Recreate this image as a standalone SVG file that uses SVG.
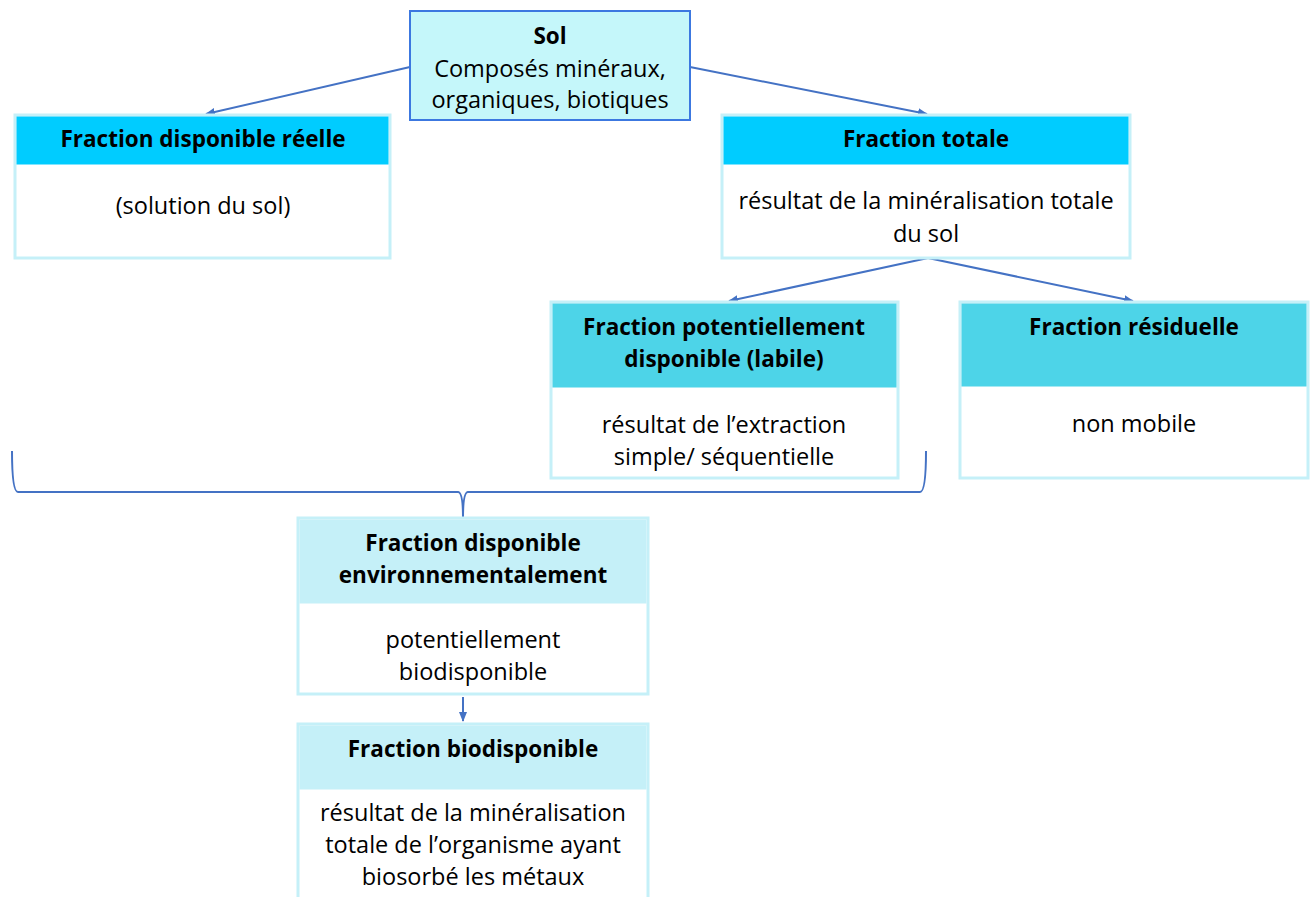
<svg xmlns="http://www.w3.org/2000/svg" width="1314" height="897" viewBox="0 0 1314 897">
<defs>
<style>
text{font-family:"Open Sans","Liberation Sans",sans-serif;font-size:23.5px;fill:#000;text-anchor:middle}
.b{font-weight:bold;font-size:22.5px}
.box{fill:#fff;stroke:#C5F0F8;stroke-width:3}
.h1{fill:#00CCFF}
.h2{fill:#4DD4E8}
.h3{fill:#C5F0F8}
.c{stroke:#4472C4;stroke-width:2;fill:none}
</style>
<marker id="a" markerWidth="10" markerHeight="8" refX="9" refY="4" orient="auto" markerUnits="userSpaceOnUse">
<path d="M0,0 L10,4 L0,8 Z" fill="#4472C4"/>
</marker>
</defs>
<rect width="1314" height="897" fill="#fff"/>
<g id="connectors">
<line class="c" x1="410" y1="67" x2="206" y2="114" marker-end="url(#a)"/>
<line class="c" x1="690" y1="67" x2="927" y2="114" marker-end="url(#a)"/>
<line class="c" x1="928" y1="258" x2="729" y2="301" marker-end="url(#a)"/>
<line class="c" x1="928" y1="258" x2="1133" y2="301" marker-end="url(#a)"/>
<line class="c" x1="463" y1="697" x2="463" y2="721" marker-end="url(#a)"/>
<path class="c" d="M12,451 Q12,492 18,492 L458,492 Q463,492 463,518 Q463,492 468,492 L920,492 Q926,492 926,451"/>
</g>
<g id="sol">
<rect x="410" y="11" width="280" height="109" fill="#C5F7FA" stroke="#3C78E0" stroke-width="2"/>
<text class="b" x="550" y="44">Sol</text>
<text x="550" y="77">Composés minéraux,</text>
<text x="550" y="108">organiques, biotiques</text>
</g>
<g id="reelle">
<rect class="box" x="15" y="115" width="375" height="143"/>
<rect class="h1" x="16.5" y="116.5" width="372" height="48"/>
<text class="b" x="203" y="147">Fraction disponible réelle</text>
<text x="203" y="214">(solution du sol)</text>
</g>
<g id="totale">
<rect class="box" x="722" y="115" width="408" height="143"/>
<rect class="h1" x="723.5" y="116.5" width="405" height="48"/>
<text class="b" x="926" y="147">Fraction totale</text>
<text x="926" y="209">résultat de la minéralisation totale</text>
<text x="926" y="242">du sol</text>
</g>
<g id="potentielle">
<rect class="box" x="551" y="302" width="347" height="176"/>
<rect class="h2" x="552.5" y="303.5" width="344" height="84"/>
<text class="b" x="724" y="335">Fraction potentiellement</text>
<text class="b" x="724" y="367">disponible (labile)</text>
<text x="724" y="433">résultat de l’extraction</text>
<text x="724" y="465">simple/ séquentielle</text>
</g>
<g id="residuelle">
<rect class="box" x="960" y="302" width="348" height="176"/>
<rect class="h2" x="961.5" y="303.5" width="345" height="83"/>
<text class="b" x="1134" y="335">Fraction résiduelle</text>
<text x="1134" y="432">non mobile</text>
</g>
<g id="environnementale">
<rect class="box" x="298" y="518" width="350" height="176"/>
<rect class="h3" x="299.5" y="519.5" width="347" height="84"/>
<text class="b" x="473" y="551">Fraction disponible</text>
<text class="b" x="473" y="583">environnementalement</text>
<text x="473" y="648">potentiellement</text>
<text x="473" y="680">biodisponible</text>
</g>
<g id="biodisponible">
<rect class="box" x="298" y="724" width="350" height="180"/>
<rect class="h3" x="299.5" y="725.5" width="347" height="64"/>
<text class="b" x="473" y="757">Fraction biodisponible</text>
<text x="473" y="821">résultat de la minéralisation</text>
<text x="473" y="853">totale de l’organisme ayant</text>
<text x="473" y="885">biosorbé les métaux</text>
</g>
</svg>
